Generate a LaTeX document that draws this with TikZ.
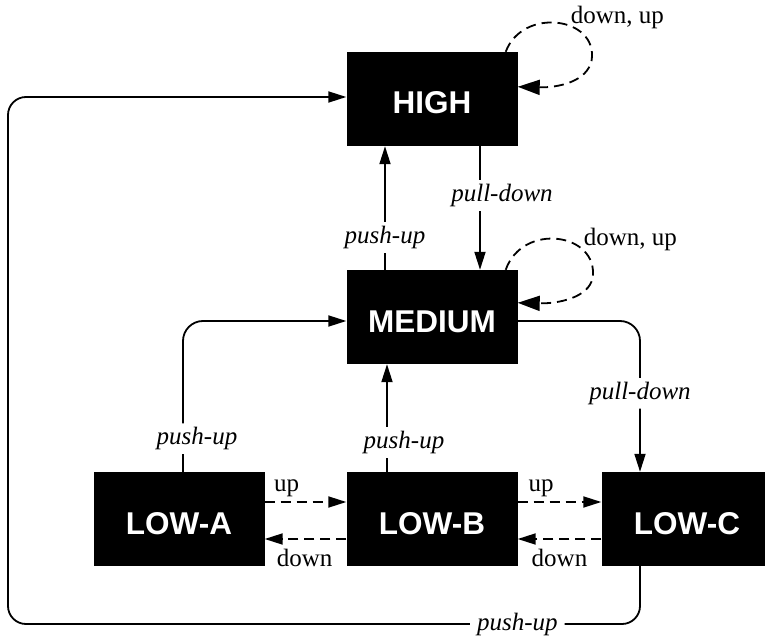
\documentclass[tikz,border=0pt]{standalone}
\usepackage{fontspec}
\setmainfont{Liberation Serif}
\newfontfamily\statefont{Liberation Sans}
\usetikzlibrary{arrows.meta}
\begin{document}
\begin{tikzpicture}[x=1pt,y=1pt,
  statebox/.style={fill=black, text=white, minimum width=171pt, minimum height=94pt,
    inner sep=0pt, text height=30pt, text depth=0pt,
    font=\statefont\bfseries\fontsize{31.5}{36}\selectfont},
  lbl/.style={font=\fontsize{25}{30}\selectfont, inner sep=3pt},
  tlbl/.style={font=\fontsize{25}{30}\selectfont\itshape, inner xsep=7pt, inner ysep=4pt, fill=white},
  solidarrow/.style={line width=1.8pt, -{Triangle[length=18pt,width=11pt]}},
  dasharrow/.style={solidarrow, dash pattern=on 10pt off 6pt},
  loopedge/.style={line width=1.8pt, dash pattern=on 10pt off 6pt,
    -{Triangle[length=22pt,width=15pt]}},
]
\useasboundingbox (0,0) rectangle (765,638);

% states
\node[statebox] (high)   at (432,539) {HIGH};
\node[statebox] (medium) at (432,321) {MEDIUM};
\node[statebox] (lowa)   at (179,119) {LOW-A};
\node[statebox] (lowb)   at (432,119) {LOW-B};
\node[statebox] (lowc)   at (687,119) {LOW-C};

% corners of the outer return path
\coordinate (sw) at (8,14);
\coordinate (nw) at (8,541);

% vertical transitions
\draw[solidarrow] ([xshift=48]high.south) -- ([xshift=48]medium.north)
  node[tlbl, pos=0.4, xshift=22] {pull-down};
\draw[solidarrow] ([xshift=-47]medium.north) -- ([xshift=-47]high.south)
  node[tlbl, pos=0.26] {push-up};
\draw[solidarrow] ([xshift=-45]lowb.north) -- ([xshift=-45]medium.south)
  node[tlbl, pos=0.27, xshift=17] {push-up};

% side transitions with rounded corners
\draw[solidarrow, rounded corners=20pt] ([xshift=4]lowa.north) |- ([yshift=-4]medium.west)
  node[tlbl, pos=0.11, xshift=14] {push-up};
\draw[solidarrow, rounded corners=20pt] ([yshift=-4]medium.east) -| ([xshift=-47]lowc.north)
  node[tlbl, pos=0.74] {pull-down};

% up / down between the low states
\draw[dasharrow] ([yshift=17]lowa.east) -- ([yshift=17]lowb.west)
  node[lbl, pos=0.27, anchor=base, yshift=11] {up};
\draw[dasharrow] ([yshift=-20]lowb.west) -- ([yshift=-20]lowa.east)
  node[lbl, pos=0.51, anchor=base, yshift=-27] {down};
\draw[dasharrow] ([yshift=17]lowb.east) -- ([yshift=17]lowc.west)
  node[lbl, pos=0.28, anchor=base, yshift=11] {up};
\draw[dasharrow] ([yshift=-20]lowc.west) -- ([yshift=-20]lowb.east)
  node[lbl, pos=0.5, anchor=base, yshift=-27] {down};

% outer return path from LOW-C to HIGH
\draw[solidarrow, rounded corners=18pt] ([xshift=-47]lowc.south) |- (sw)
  node[tlbl, pos=0.597] {push-up} -- (nw) -- ([yshift=2]high.west);

% self loops
\draw[loopedge] ([xshift=-12]high.north east)
  .. controls +(17,45) and +(6,43) .. ([shift={(74,-8)}]high.north east)
  .. controls +(-4,-22) and +(40,-1) .. ([yshift=-35]high.north east);
\node[lbl, anchor=base west, inner sep=0pt] (highloop) at ([shift={(53,28)}]high.north east) {down, up};

\draw[loopedge] ([xshift=-12]medium.north east)
  .. controls +(17,48) and +(6,45) .. ([shift={(75,-8)}]medium.north east)
  .. controls +(-4,-20) and +(40,-1) .. ([yshift=-33]medium.north east);
\node[lbl, anchor=base west, inner sep=0pt] (medloop) at ([shift={(66,24)}]medium.north east) {down, up};
\end{tikzpicture}
\end{document}
